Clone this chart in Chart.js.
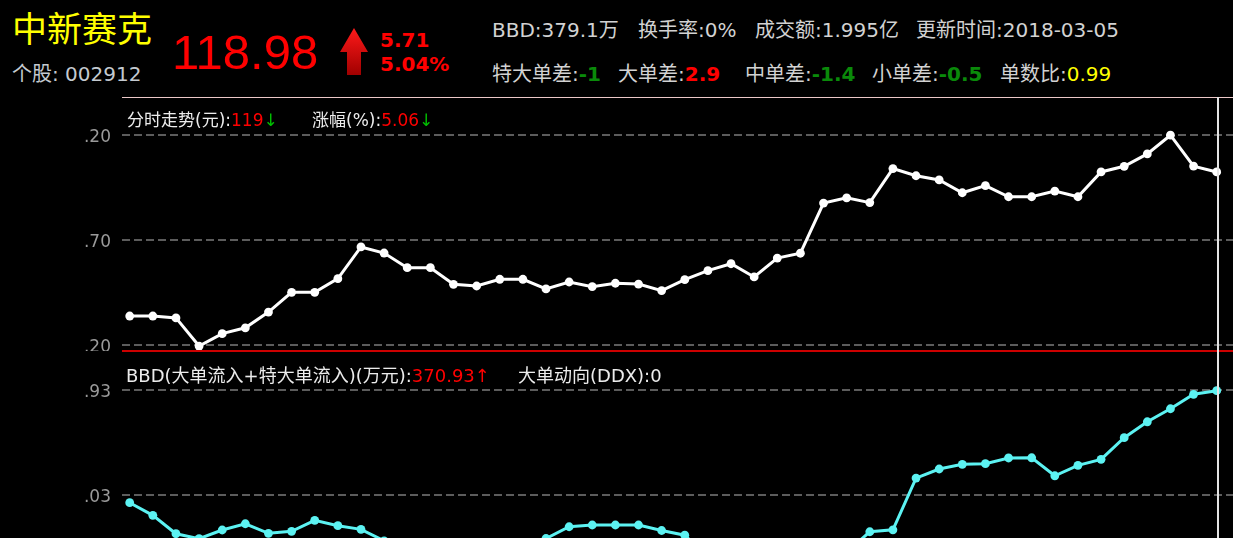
<!DOCTYPE html>
<html>
<head>
<meta charset="utf-8">
<script src="https://cdn.jsdelivr.net/npm/chart.js@4.4.1/dist/chart.umd.min.js"></script>
<style>
body{margin:0;background:#000;width:1233px;height:538px;overflow:hidden;position:relative;font-family:"DejaVu Sans","Noto Sans CJK SC",sans-serif;}
.t{position:absolute;white-space:nowrap;line-height:1;}
.hd{color:#d2d2d2;font-size:20px;}
.g{color:#0a8a0a;font-weight:bold;}
.r{color:#ff0000;}
.rb{color:#ff0000;font-weight:bold;}
.y{color:#ffff00;}
.lg{color:#ececec;font-size:17px;z-index:5;}
#topWrap{position:absolute;left:0;top:97px;width:1233px;height:254px;}
#botWrap{position:absolute;left:0;top:351px;width:1233px;height:187px;}
.line{position:absolute;z-index:4;}
</style>
</head>
<body>
<div class="t y" style="left:12px;top:13px;font-size:35px;">中新赛克</div>
<div class="t" style="left:12px;top:64px;font-size:20px;color:#c4cad0;">个股: 002912</div>
<div class="t r" style="left:172px;top:28px;font-size:49px;font-family:'Liberation Sans',sans-serif;">118.98</div>
<svg style="position:absolute;left:338px;top:26px;" width="32" height="52">
  <defs><linearGradient id="ag" x1="0" y1="0" x2="0" y2="1">
    <stop offset="0" stop-color="#ff1a1a"/><stop offset="1" stop-color="#a00000"/></linearGradient></defs>
  <polygon points="16,2 30,26 23,26 23,49 9,49 9,26 2,26" fill="url(#ag)"/>
</svg>
<div class="t rb" style="left:380px;top:30px;font-size:20px;">5.71</div>
<div class="t rb" style="left:380px;top:54px;font-size:20px;">5.04%</div>

<div class="t hd" style="left:492px;top:20px;">BBD:379.1万</div>
<div class="t hd" style="left:638px;top:20px;">换手率:0%</div>
<div class="t hd" style="left:755px;top:20px;">成交额:1.995亿</div>
<div class="t hd" style="left:916px;top:20px;">更新时间:2018-03-05</div>

<div class="t hd" style="left:492px;top:64px;">特大单差:<span class="g">-1</span></div>
<div class="t hd" style="left:618px;top:64px;">大单差:<span class="rb">2.9</span></div>
<div class="t hd" style="left:745px;top:64px;">中单差:<span class="g">-1.4</span></div>
<div class="t hd" style="left:872px;top:64px;">小单差:<span class="g">-0.5</span></div>
<div class="t hd" style="left:1000px;top:64px;">单数比:<span class="y">0.99</span></div>

<div class="line" style="left:122px;top:97px;width:1111px;height:1px;background:#ecc8c8;"></div>
<div class="line" style="left:122px;top:350px;width:1111px;height:2px;background:#cc0000;"></div>
<div class="line" style="left:1217px;top:97px;width:2px;height:441px;background:#e4e4e4;"></div>

<div id="topWrap"><canvas id="topChart" width="1233" height="254"></canvas></div>
<div id="botWrap"><canvas id="botChart" width="1233" height="187"></canvas></div>

<div class="t lg" style="left:127px;top:112px;">分时走势(元):<span class="r">119</span><span style="color:#00c000;">↓</span></div>
<div class="t lg" style="left:312px;top:112px;">涨幅(%):<span class="r">5.06</span><span style="color:#00c000;">↓</span></div>
<div class="t lg" style="left:126px;top:367px;font-size:18px;">BBD(大单流入+特大单流入)(万元):<span class="r">370.93↑</span></div>
<div class="t lg" style="left:518px;top:367px;font-size:18px;">大单动向(DDX):0</div>

<script>
// 分时走势 (元), one point per 5 minutes
const priceValues = [118.338,118.338,118.329,118.195,118.254,118.282,118.357,118.451,118.451,118.516,
  118.667,118.638,118.568,118.568,118.489,118.481,118.513,118.513,118.467,118.500,
  118.478,118.494,118.490,118.459,118.511,118.554,118.587,118.524,118.614,118.637,
  118.876,118.901,118.878,119.040,119.006,118.986,118.925,118.959,118.906,118.906,
  118.933,118.906,119.024,119.051,119.110,119.199,119.052,119.024];
// BBD (万元)
const bbdValues = [262.6,250.5,232.8,228.0,236.4,242.4,233.2,235.1,245.7,240.5,
  237.0,226.0,218.0,212.0,209.0,212.0,216.0,220.0,228.2,239.5,
  241.2,241.2,241.2,235.9,231.4,210.0,204.0,200.0,198.0,203.0,
  209.0,215.0,234.7,236.6,286.3,295.0,299.5,300.1,305.6,305.8,
  288.5,298.5,304.3,325.1,340.4,352.9,366.8,370.3];

const priceTicks = [118.2, 118.7, 119.2];
const priceTickLabels = ['.20', '.70', '.20'];
const bbdTicks = [270.03, 370.93];
const bbdTickLabels = ['.03', '.93'];

function makeChart(id, values, color, ticks, labels, min, max){
  return new Chart(document.getElementById(id), {
    type: 'line',
    data: { datasets: [{
      data: values.map((v,i)=>({x:i, y:v})),
      borderColor: color, backgroundColor: color,
      borderWidth: 3, pointRadius: 4.4, pointBorderWidth: 0, tension: 0
    }]},
    options: {
      responsive: false, animation: false,
      layout: { padding: 0, autoPadding: false },
      plugins: { legend: { display: false }, tooltip: { enabled: false } },
      scales: {
        x: { type: 'linear', min: -0.333, max: 47.705, display: false },
        y: {
          min, max,
          afterFit(s){ s.width = 122; s.paddingTop = 0; s.paddingBottom = 0; },
          afterBuildTicks(s){ s.ticks = ticks.map(v=>({value:v})); },
          ticks: { color: '#9a9a9a', font: { size: 17, family: 'DejaVu Sans' }, padding: 11, labelOffset: 3,
                   callback: (v,i)=>labels[i] },
          grid: { color: '#5c5c5c', lineWidth: 2, drawTicks: false },
          border: { display: false, dash: [8,4] }
        }
      }
    }
  });
}

makeChart('topChart', priceValues, '#ffffff', priceTicks, priceTickLabels, 118.1714, 119.381);
makeChart('botChart', bbdValues, '#5cf2f2', bbdTicks, bbdTickLabels, 228.70, 408.41);
</script>
</body>
</html>
